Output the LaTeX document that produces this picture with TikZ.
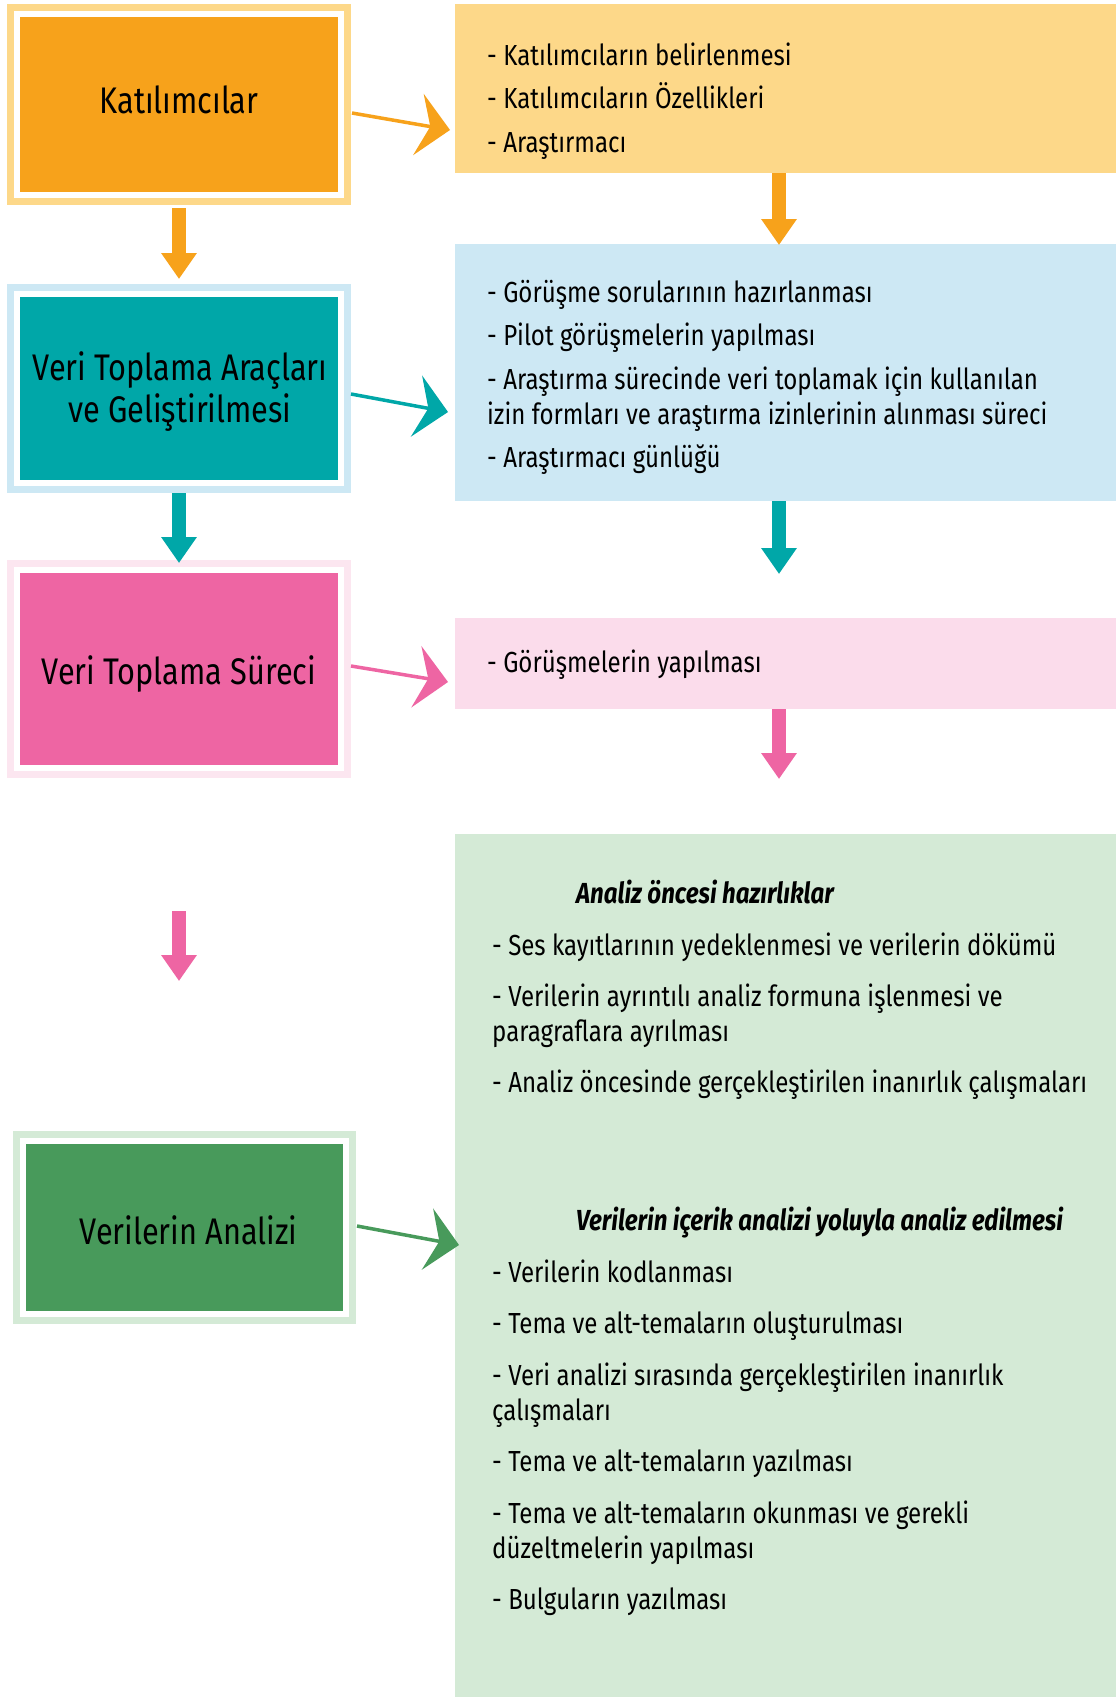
\documentclass[tikz,border=0pt]{standalone}
\usepackage{fontspec}
\setmainfont{Fira Sans}[FakeStretch=0.83]
\usetikzlibrary{arrows.meta,calc}
\definecolor{orS}{HTML}{F7A21B}
\definecolor{orL}{HTML}{FDD889}
\definecolor{tealS}{HTML}{00A7A8}
\definecolor{blueL}{HTML}{CDE8F4}
\definecolor{pinkS}{HTML}{EE65A3}
\definecolor{pinkL}{HTML}{FBDCEB}
\definecolor{pinkF}{HTML}{FCE6F0}
\definecolor{greenS}{HTML}{489A5B}
\definecolor{greenL}{HTML}{D4EAD6}
\newcommand\bigfont{\fontsize{37}{44}\selectfont}
\newcommand\itemfont{\fontsize{29}{35}\selectfont}
\begin{document}
\begin{tikzpicture}[x=1pt,y=-1pt,
  outerbox/.style={fill=#1, inner sep=0pt, outer sep=0pt},
  innerbox/.style={fill=#1, draw=white, line width=6pt, inner sep=0pt},
  labeltext/.style={inner sep=0pt, align=center, font=\bigfont, text=black},
  infobox/.style={fill=#1, inner sep=0pt, outer sep=0pt},
  itemtext/.style={anchor=base west, inner sep=0pt, font=\itemfont, text=black},
  headtext/.style={anchor=base west, inner sep=0pt, font=\itemfont\bfseries\itshape, text=black},
  rarrow/.style={draw=#1, line width=3.5pt, -{Stealth[length=32pt,width=62pt,inset=12pt]}},
  darrow/.style={draw=#1, line width=14pt, -{Triangle[length=26pt,width=34pt]}}
]
\useasboundingbox (0,0) rectangle (1116,1697);
\fill[white] (0,0) rectangle (1116,1697);

% left boxes
\node[outerbox=orL, minimum width=344pt, minimum height=201pt] (k-o) at (179,104.5) {};
\node[innerbox=orS, minimum width=324pt, minimum height=181pt] (k) at (k-o.center) {};
\node[labeltext] (k-t) at ($(k.center)+(0,-4.5)$) {Katılımcılar};

\node[outerbox=blueL, minimum width=344pt, minimum height=209pt] (v-o) at (179,388.5) {};
\node[innerbox=tealS, minimum width=324pt, minimum height=189pt] (v) at (v-o.center) {};
\node[labeltext] (v-t) at ($(v.center)+(1,3)$) {Veri Toplama Araçları\\[-2pt]ve Geliştirilmesi};

\node[outerbox=pinkF, minimum width=344pt, minimum height=218pt] (p-o) at (179,669) {};
\node[innerbox=pinkS, minimum width=324pt, minimum height=198pt] (p) at (p-o.center) {};
\node[labeltext] (p-t) at ($(p.center)+(0,5)$) {Veri Toplama Süreci};

\node[outerbox=greenL, minimum width=343pt, minimum height=193pt] (g-o) at (184.5,1227.5) {};
\node[innerbox=greenS, minimum width=323pt, minimum height=173pt] (g) at (g-o.center) {};
\node[labeltext] (g-t) at ($(g.center)+(4,3)$) {Verilerin Analizi};

% right boxes
\node[infobox=orL, minimum width=661pt, minimum height=169pt] (ki) at (785.5,88.5) {};
\node[infobox=blueL, minimum width=661pt, minimum height=257pt] (vi) at (785.5,372.5) {};
\node[infobox=pinkL, minimum width=661pt, minimum height=91pt] (pi) at (785.5,663.5) {};
\node[infobox=greenL, minimum width=661pt, minimum height=863pt] (gi) at (785.5,1265.5) {};

% texts
\node[itemtext] (ki1) at (487,65) {- Katılımcıların belirlenmesi};
\node[itemtext] (ki2) at (487,108) {- Katılımcıların Özellikleri};
\node[itemtext] (ki3) at (487,152) {- Araştırmacı};

\node[itemtext] (vi1) at (487,302) {- Görüşme sorularının hazırlanması};
\node[itemtext] (vi2) at (487,345) {- Pilot görüşmelerin yapılması};
\node[itemtext] (vi3) at (487,389) {- Araştırma sürecinde veri toplamak için kullanılan};
\node[itemtext] (vi4) at (487,424) {izin formları ve araştırma izinlerinin alınması süreci};
\node[itemtext] (vi5) at (487,467) {- Araştırmacı günlüğü};

\node[itemtext] (pi1) at (487,672) {- Görüşmelerin yapılması};

\node[headtext] (gh1) at (576,903) {Analiz öncesi hazırlıklar};
\node[itemtext] (gi1) at (492,955) {- Ses kayıtlarının yedeklenmesi ve verilerin dökümü};
\node[itemtext] (gi2) at (492,1006) {- Verilerin ayrıntılı analiz formuna işlenmesi ve};
\node[itemtext] (gi3) at (492,1041) {paragraflara ayrılması};
\node[itemtext] (gi4) at (492,1092) {- Analiz öncesinde gerçekleştirilen inanırlık çalışmaları};
\node[headtext] (gh2) at (576,1230) {Verilerin içerik analizi yoluyla analiz edilmesi};
\node[itemtext] (gi5) at (492,1282) {- Verilerin kodlanması};
\node[itemtext] (gi6) at (492,1333) {- Tema ve alt-temaların oluşturulması};
\node[itemtext] (gi7) at (492,1385) {- Veri analizi sırasında gerçekleştirilen inanırlık};
\node[itemtext] (gi8) at (492,1420) {çalışmaları};
\node[itemtext] (gi9) at (492,1471) {- Tema ve alt-temaların yazılması};
\node[itemtext] (gi10) at (492,1523) {- Tema ve alt-temaların okunması ve gerekli};
\node[itemtext] (gi11) at (492,1558) {düzeltmelerin yapılması};
\node[itemtext] (gi12) at (492,1609) {- Bulguların yazılması};

% free arrow ends
\coordinate (pa1) at (179,911);
\coordinate (pa2) at (179,981);
\coordinate (ta2) at (779,574);
\coordinate (pb2) at (779,779);

% right arrows
\draw[rarrow=orS] ($(k-o.east)+(1,8.5)$) -- ($(ki.west)+(-5,41.5)$);
\draw[rarrow=tealS] ($(v-o.east)+(0,5.5)$) -- ($(vi.west)+(-7,39.5)$);
\draw[rarrow=pinkS] ($(p-o.east)+(0,-3)$) -- ($(pi.west)+(-7,18.5)$);
\draw[rarrow=greenS] ($(g-o.east)+(1,-1.5)$) -- ($(gi.west)+(4,-20.5)$);

% down arrows
\draw[darrow=orS] ($(k-o.south)+(0,3)$) -- ($(v-o.north)+(0,-5)$);
\draw[darrow=tealS] (v-o.south) -- ($(p-o.north)+(0,3)$);
\draw[darrow=pinkS] (pa1) -- (pa2);
\draw[darrow=orS] ($(ki.south)+(-6.5,0)$) -- ($(vi.north)+(-6.5,1)$);
\draw[darrow=tealS] ($(vi.south)+(-6.5,0)$) -- (ta2);
\draw[darrow=pinkS] ($(pi.south)+(-6.5,0)$) -- (pb2);
\end{tikzpicture}
\end{document}
